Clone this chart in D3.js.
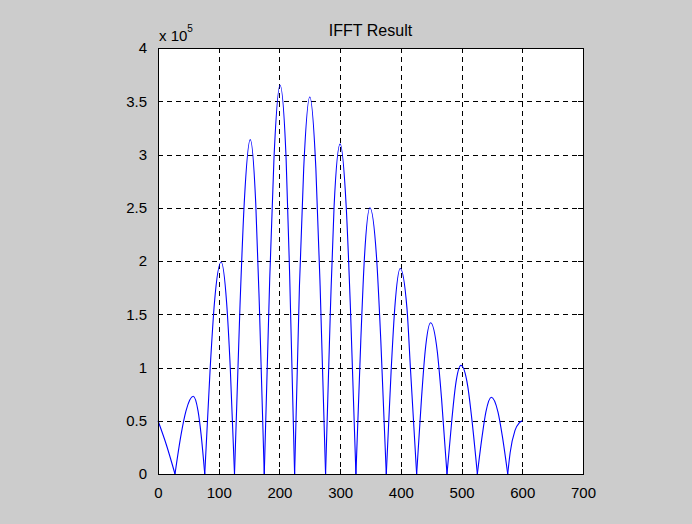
<!DOCTYPE html>
<html>
<head>
<meta charset="utf-8">
<script src="https://cdn.jsdelivr.net/npm/d3@7"></script>
<style>
  html, body { margin: 0; padding: 0; background: #cccccc; }
  svg { display: block; }
  text { font-family: "Liberation Sans", Arial, sans-serif; fill: #000; }
</style>
</head>
<body>
<svg id="chart" width="692" height="524"></svg>
<script>
// ---- data (y in units of 1e5) ----
const curveX = [
  0, 14, 28,
  38, 46, 58, 66, 71, 77,
  86, 93, 104, 113, 119, 126,
  135, 142, 152, 161, 167, 175,
  184, 191, 201, 211, 217, 225,
  233, 240, 250, 260, 267, 276,
  284, 290, 300, 310, 317, 326,
  334, 340, 349, 360, 367, 376,
  384, 390, 399, 410, 416, 426,
  434, 440, 449, 460, 467, 476,
  484, 490, 499, 510, 517, 526,
  534, 540, 549, 560, 567, 576,
  580, 588, 595, 600
];
const curveY = [
  0.50, 0.27, 0,
  0.37, 0.59, 0.73, 0.59, 0.37, 0,
  1.00, 1.61, 1.99, 1.61, 1.00, 0,
  1.57, 2.54, 3.14, 2.54, 1.57, 0,
  1.83, 2.96, 3.65, 2.96, 1.83, 0,
  1.77, 2.87, 3.54, 2.87, 1.77, 0,
  1.55, 2.51, 3.10, 2.51, 1.55, 0,
  1.25, 2.03, 2.50, 2.03, 1.25, 0,
  0.97, 1.56, 1.93, 1.56, 0.97, 0,
  0.71, 1.15, 1.42, 1.15, 0.71, 0,
  0.51, 0.83, 1.02, 0.83, 0.51, 0,
  0.36, 0.58, 0.72, 0.58, 0.36, 0,
  0.20, 0.41, 0.48, 0.50
];
const xTicks = [0, 100, 200, 300, 400, 500, 600, 700];
const yTicks = [0, 0.5, 1, 1.5, 2, 2.5, 3, 3.5, 4];
const yTickLabels = ["0", "0.5", "1", "1.5", "2", "2.5", "3", "3.5", "4"];
const titleText = "IFFT Result";
const exponentBase = "x 10";
const exponentPower = "5";

// ---- layout ----
const L = 158, R = 583, T = 48, B = 474;
const svg = d3.select("#chart");
const x = d3.scaleLinear().domain([0, 700]).range([L, R]);
const y = d3.scaleLinear().domain([0, 4]).range([B, T]);

svg.append("rect").attr("x", 0).attr("y", 0).attr("width", 692).attr("height", 524).attr("fill", "#cccccc");
svg.append("rect").attr("x", L).attr("y", T).attr("width", R - L).attr("height", B - T).attr("fill", "#ffffff");

// grid
const grid = svg.append("g").attr("stroke", "#000").attr("stroke-width", 1).attr("stroke-dasharray", "5,4").attr("shape-rendering", "crispEdges");
grid.selectAll("line.v").data(xTicks.filter(d => d > 0 && d < 700)).enter().append("line")
  .attr("x1", d => Math.round(x(d)) + 0.5).attr("x2", d => Math.round(x(d)) + 0.5)
  .attr("y1", T).attr("y2", B);
grid.selectAll("line.h").data(yTicks.filter(d => d > 0 && d < 4)).enter().append("line")
  .attr("y1", d => Math.round(y(d)) + 0.5).attr("y2", d => Math.round(y(d)) + 0.5)
  .attr("x1", L).attr("x2", R);

// curve, split at zeros for sharp cusps
const pts = curveX.map((d, i) => [d, curveY[i]]);
const segs = [];
let cur = [];
pts.forEach((p, i) => {
  cur.push(p);
  if (p[1] === 0 && i > 0 && i < pts.length - 1) { segs.push(cur); cur = [p]; }
});
if (cur.length > 1) segs.push(cur);
const line = d3.line().x(d => x(d[0])).y(d => y(d[1])).curve(d3.curveMonotoneX);
svg.append("g").selectAll("path").data(segs).enter().append("path")
  .attr("d", line).attr("fill", "none").attr("stroke", "#0000ff").attr("stroke-width", 1.1);

// axes
const fs = "15px";
const xAxis = d3.axisBottom(x).tickValues(xTicks).tickSizeInner(-5).tickSizeOuter(0).tickPadding(13).tickFormat(d3.format("d"));
const gx = svg.append("g").attr("transform", `translate(0,${B})`).call(xAxis);
const yAxis = d3.axisLeft(y).tickValues(yTicks).tickSizeInner(-5).tickSizeOuter(0).tickPadding(11).tickFormat((d, i) => yTickLabels[i]);
const gy = svg.append("g").attr("transform", `translate(${L},0)`).call(yAxis);
const gt = svg.append("g").attr("transform", `translate(0,${T})`).call(d3.axisTop(x).tickValues(xTicks).tickSizeInner(-5).tickSizeOuter(0).tickFormat(""));
const gr = svg.append("g").attr("transform", `translate(${R},0)`).call(d3.axisRight(y).tickValues(yTicks).tickSizeInner(-5).tickSizeOuter(0).tickFormat(""));
[gx, gy, gt, gr].forEach(g => {
  g.selectAll(".domain").remove();
  g.selectAll("line").attr("stroke", "#000").attr("shape-rendering", "crispEdges");
  g.selectAll("text").attr("font-size", fs).attr("font-family", "Liberation Sans, Arial, sans-serif").attr("fill", "#000");
});

// frame
svg.append("rect").attr("x", L + 0.5).attr("y", T + 0.5).attr("width", R - L).attr("height", B - T)
  .attr("fill", "none").attr("stroke", "#000").attr("stroke-width", 1).attr("shape-rendering", "crispEdges");

// title
svg.append("text").attr("x", (L + R) / 2).attr("y", 36).attr("text-anchor", "middle").attr("font-size", "16px").text(titleText);

// exponent label
const ex = svg.append("text").attr("x", 159).attr("y", 41).attr("font-size", fs);
ex.append("tspan").text(exponentBase);
ex.append("tspan").attr("font-size", "10px").attr("dy", -9).text(exponentPower);
</script>
</body>
</html>
